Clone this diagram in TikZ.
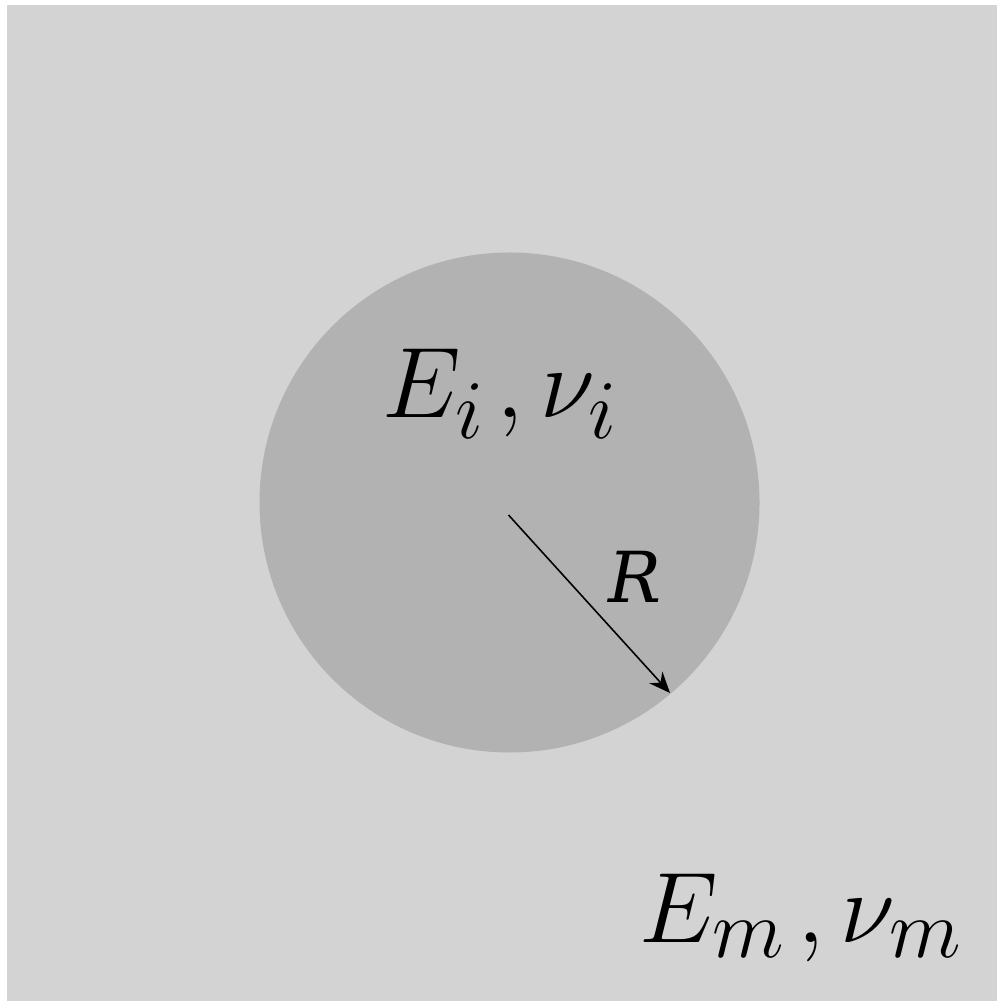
\documentclass[tikz,border=0pt]{standalone}
\usepackage{graphicx}
\usepackage{fontspec}
\newfontfamily\rfont{DejaVu Serif}
\usetikzlibrary{arrows.meta}
\definecolor{matrixgray}{HTML}{D3D3D3}
\definecolor{inclgray}{HTML}{B2B2B2}
\newcommand{\biglbl}[1]{\scalebox{1.1455}{\fontsize{24.88}{30}\selectfont$#1$}}
\tikzset{
  biglabel/.style={anchor=base west, inner sep=0pt},
  rlabel/.style={anchor=base, inner sep=0pt, font=\fontsize{20}{24}\selectfont\rfont\itshape},
  radiusarrow/.style={-{Stealth[length=6pt,width=5pt,inset=2pt]}, line width=0.45pt, black}
}
\begin{document}
\begin{tikzpicture}[x=0.01cm,y=-0.01cm]
\useasboundingbox (0,0) rectangle (997,1001);
\fill[white] (0,0) rectangle (997,1001);
\fill[matrixgray] (7,5) rectangle (997,1001);
\fill[inclgray] (509.5,502.5) circle (250);
\coordinate (c0) at (508.5,515);
\coordinate (c1) at (670,693);
\draw[radiusarrow] (c0) -- (c1);
\node[biglabel] (inc) at (382,418) {\biglbl{E_i\mkern2mu,\nu_i}};
\node[rlabel] (r) at (635,602) {R};
\node[biglabel] (mat) at (639,942) {\biglbl{E_m\mkern2mu,\nu_m}};
\end{tikzpicture}
\end{document}
